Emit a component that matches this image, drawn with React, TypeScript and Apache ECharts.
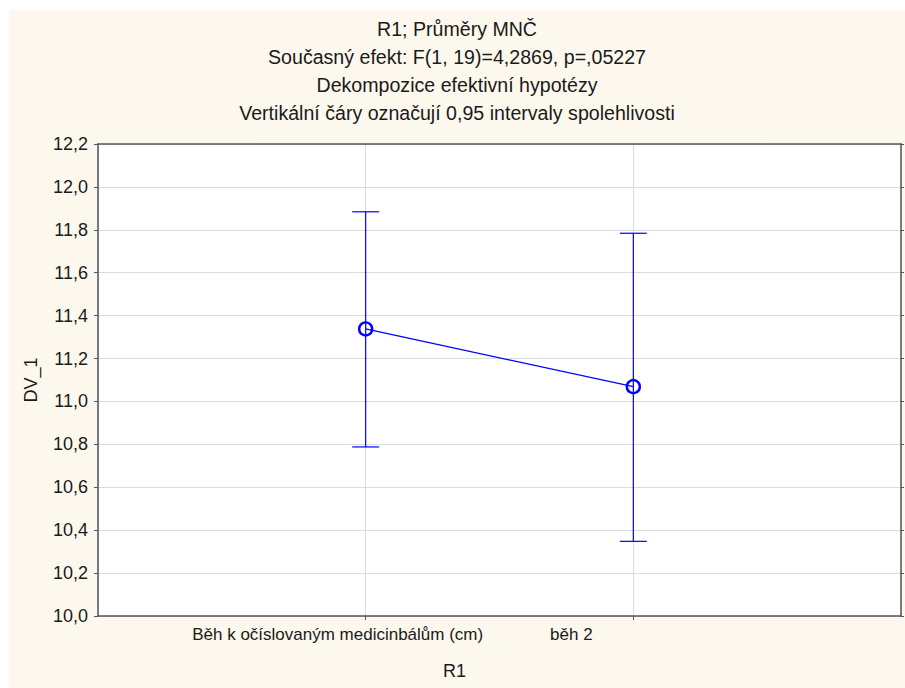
import React, { useEffect, useRef } from "react";
import * as echarts from "echarts";

const categories = ["Běh k očíslovaným medicinbálům (cm)", "běh 2"];
const means = [11.338, 11.069];
const lower = [10.788, 10.348];
const upper = [11.884, 11.784];
const yTicks = { min: 10.0, max: 12.2, interval: 0.2 };
const titleLines = [
  "R1; Průměry MNČ",
  "Současný efekt: F(1, 19)=4,2869, p=,05227",
  "Dekompozice efektivní hypotézy",
  "Vertikální čáry označují 0,95 intervaly spolehlivosti",
];

const FONT = "Liberation Sans, Arial, sans-serif";
const BLUE = "#0000ff";

export default function App() {
  const ref = useRef<HTMLDivElement>(null);
  useEffect(() => {
    if (!ref.current) return;
    const chart = echarts.init(ref.current, null, { renderer: "svg" });
    const xData = ["", ...categories, ""];
    const meanData = ["-", ...means.map((v) => v), "-"];
    const errData = categories.map((_, i) => [i + 1, lower[i], upper[i]]);
    const labelShift: Record<string, number> = {};
    labelShift[categories[0]] = 56;
    labelShift[categories[1]] = 124;

    chart.setOption({
      animation: false,
      backgroundColor: "#ffffff",
      textStyle: { fontFamily: FONT },
      graphic: [
        {
          type: "rect",
          shape: { x: 9, y: 10, width: 905, height: 688 },
          style: { fill: "#fdf8ed" },
          z: -10,
          silent: true,
        },
      ],
      title: {
        text: titleLines.join("\n"),
        left: 452,
        top: 10,
        textAlign: "center",
        textStyle: {
          fontFamily: FONT,
          fontSize: 19.6,
          fontWeight: "normal",
          color: "#1a1a1a",
          lineHeight: 28,
        },
      },
      grid: {
        left: 98,
        top: 144,
        right: 4,
        bottom: 72,
        show: true,
        backgroundColor: "#ffffff",
        borderColor: "#555",
        borderWidth: 0,
      },
      xAxis: [
        {
          type: "category",
          data: xData,
          boundaryGap: false,
          name: "R1",
          nameLocation: "middle",
          nameGap: 46,
          nameTextStyle: {
            fontFamily: FONT,
            fontSize: 18,
            color: "#1a1a1a",
            padding: [0, 90, 0, 0],
          },
          axisLine: { show: true, lineStyle: { color: "#555", width: 1.5 } },
          axisTick: {
            show: true,
            length: 4,
            lineStyle: { color: "#555" },
            interval: (i: number) => i === 1 || i === 2,
          },
          axisLabel: {
            margin: 10,
            interval: 0,
            fontFamily: FONT,
            fontSize: 17,
            color: "#1a1a1a",
            formatter: (v: string) => (v ? `{a${labelShift[v]}|${v}}` : ""),
            rich: {
              a56: { padding: [0, 56, 0, 0], fontSize: 17, fontFamily: FONT, color: "#1a1a1a" },
              a124: { padding: [0, 124, 0, 0], fontSize: 17, fontFamily: FONT, color: "#1a1a1a" },
            },
          },
          splitLine: { show: true, lineStyle: { color: "#dcdcdc", width: 1 } },
        },
        {
          type: "category",
          data: xData,
          boundaryGap: false,
          position: "top",
          axisLine: { show: true, lineStyle: { color: "#555", width: 1.5 } },
          axisTick: { show: false },
          axisLabel: { show: false },
          splitLine: { show: false },
        },
      ],
      yAxis: [
        {
          type: "value",
          min: yTicks.min,
          max: yTicks.max,
          interval: yTicks.interval,
          name: "DV_1",
          nameLocation: "middle",
          nameGap: 58,
          nameTextStyle: { fontFamily: FONT, fontSize: 18, color: "#1a1a1a" },
          axisLine: { show: true, lineStyle: { color: "#555", width: 1.5 } },
          axisTick: { show: true, length: 4, lineStyle: { color: "#555" } },
          axisLabel: {
            margin: 10,
            fontFamily: FONT,
            fontSize: 18,
            color: "#1a1a1a",
            formatter: (v: number) => v.toFixed(1).replace(".", ","),
          },
          splitLine: { show: true, lineStyle: { color: "#dcdcdc", width: 1 } },
        },
        {
          type: "value",
          min: yTicks.min,
          max: yTicks.max,
          interval: yTicks.interval,
          position: "right",
          axisLine: { show: true, lineStyle: { color: "#555", width: 1.5 } },
          axisTick: { show: true, length: 3, lineStyle: { color: "#555" } },
          axisLabel: { show: false },
          splitLine: { show: false },
        },
      ],
      series: [
        {
          type: "custom",
          xAxisIndex: 0,
          yAxisIndex: 0,
          data: errData,
          renderItem: (params: any, api: any) => {
            const x = api.value(0);
            const lo = api.coord([x, api.value(1)]);
            const hi = api.coord([x, api.value(2)]);
            const half = 13.5;
            const style = { stroke: BLUE, lineWidth: 1.2 };
            return {
              type: "group",
              children: [
                { type: "line", shape: { x1: lo[0], y1: lo[1], x2: hi[0], y2: hi[1] }, style },
                { type: "line", shape: { x1: hi[0] - half, y1: hi[1], x2: hi[0] + half, y2: hi[1] }, style },
                { type: "line", shape: { x1: lo[0] - half, y1: lo[1], x2: lo[0] + half, y2: lo[1] }, style },
              ],
            };
          },
          z: 3,
        },
        {
          type: "line",
          data: meanData,
          symbol: "circle",
          symbolSize: 13,
          showAllSymbol: true,
          lineStyle: { color: BLUE, width: 1.2 },
          itemStyle: { color: "rgba(0,0,0,0)", borderColor: BLUE, borderWidth: 2.4 },
          connectNulls: false,
          z: 4,
        },
      ],
    });
    return () => chart.dispose();
  }, []);
  return (
    <div
      ref={ref}
      style={{ position: "absolute", left: 0, top: 0, width: 905, height: 688 }}
    />
  );
}
